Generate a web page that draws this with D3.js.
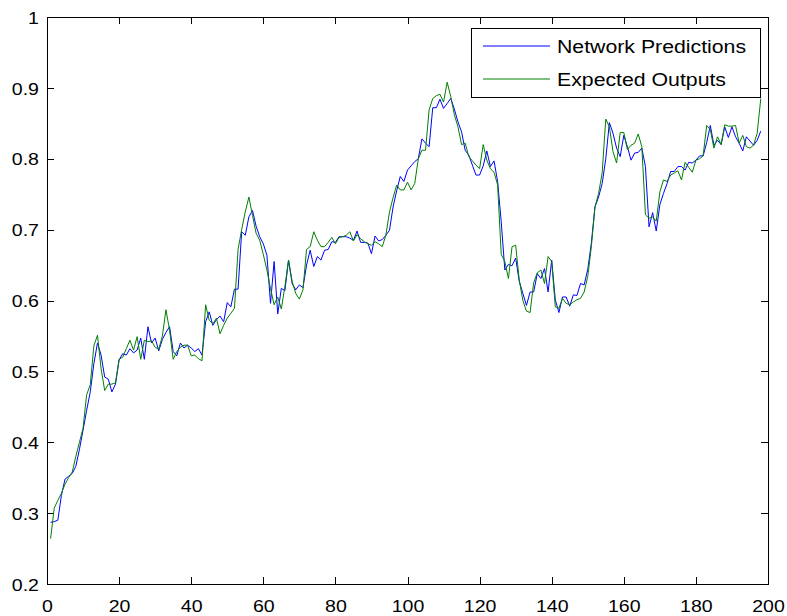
<!DOCTYPE html>
<html>
<head>
<meta charset="utf-8">
<script src="https://cdn.jsdelivr.net/npm/d3@7"></script>
<style>
  body { margin: 0; background: #fff; }
  svg { display: block; }
  text { font-family: "Liberation Sans", Arial, sans-serif; fill: #000; }
</style>
</head>
<body>
<div id="chart"></div>
<script>
// network output, one value per step (x = 1..198)
const predicted = [
  0.287, 0.288, 0.290, 0.325, 0.348, 0.352, 0.356, 0.366, 0.390, 0.417,
  0.445, 0.471, 0.511, 0.540, 0.523, 0.492, 0.489, 0.471, 0.482, 0.516,
  0.525, 0.523, 0.532, 0.526, 0.530, 0.547, 0.517, 0.563, 0.540, 0.547,
  0.529, 0.545, 0.555, 0.563, 0.528, 0.522, 0.540, 0.533, 0.537, 0.533,
  0.528, 0.532, 0.523, 0.570, 0.584, 0.565, 0.573, 0.578, 0.570, 0.597,
  0.591, 0.616, 0.616, 0.697, 0.692, 0.718, 0.727, 0.705, 0.690, 0.680,
  0.664, 0.596, 0.655, 0.581, 0.617, 0.614, 0.657, 0.624, 0.615, 0.622,
  0.618, 0.650, 0.671, 0.648, 0.662, 0.657, 0.671, 0.672, 0.683, 0.682,
  0.690, 0.690, 0.690, 0.688, 0.685, 0.698, 0.682, 0.682, 0.681, 0.666,
  0.691, 0.684, 0.686, 0.692, 0.699, 0.732, 0.755, 0.775, 0.768, 0.784,
  0.790, 0.796, 0.800, 0.828, 0.822, 0.817, 0.872, 0.872, 0.884, 0.871,
  0.878, 0.885, 0.870, 0.852, 0.838, 0.812, 0.805, 0.791, 0.777, 0.777,
  0.790, 0.811, 0.789, 0.797, 0.768, 0.711, 0.643, 0.651, 0.649, 0.660,
  0.627, 0.610, 0.593, 0.612, 0.612, 0.638, 0.631, 0.645, 0.612, 0.657,
  0.601, 0.583, 0.605, 0.605, 0.592, 0.608, 0.607, 0.624, 0.622, 0.644,
  0.681, 0.732, 0.746, 0.765, 0.800, 0.851, 0.836, 0.815, 0.803, 0.833,
  0.817, 0.798, 0.808, 0.809, 0.815, 0.789, 0.704, 0.724, 0.698, 0.735,
  0.751, 0.765, 0.782, 0.782, 0.789, 0.789, 0.784, 0.795, 0.794, 0.798,
  0.804, 0.804, 0.823, 0.847, 0.819, 0.826, 0.820, 0.845, 0.830, 0.845,
  0.831, 0.822, 0.811, 0.831, 0.825, 0.819, 0.826, 0.839
];

// target values
const expected = [
  0.264, 0.307, 0.318, 0.328, 0.341, 0.350, 0.358, 0.380, 0.400, 0.420,
  0.467, 0.481, 0.536, 0.551, 0.504, 0.473, 0.482, 0.482, 0.484, 0.517,
  0.520, 0.532, 0.544, 0.530, 0.549, 0.517, 0.544, 0.542, 0.543, 0.534,
  0.531, 0.550, 0.587, 0.558, 0.517, 0.528, 0.534, 0.537, 0.537, 0.522,
  0.523, 0.518, 0.515, 0.594, 0.572, 0.567, 0.575, 0.553, 0.565, 0.575,
  0.582, 0.589, 0.672, 0.700, 0.725, 0.746, 0.720, 0.695, 0.685, 0.665,
  0.643, 0.617, 0.594, 0.605, 0.588, 0.620, 0.657, 0.627, 0.610, 0.602,
  0.615, 0.672, 0.676, 0.697, 0.685, 0.676, 0.676, 0.682, 0.689, 0.680,
  0.689, 0.690, 0.692, 0.697, 0.684, 0.693, 0.687, 0.683, 0.680, 0.678,
  0.683, 0.680, 0.676, 0.692, 0.725, 0.745, 0.763, 0.756, 0.756, 0.767,
  0.756, 0.765, 0.800, 0.812, 0.812, 0.869, 0.885, 0.889, 0.891, 0.880,
  0.908, 0.888, 0.862, 0.845, 0.820, 0.822, 0.803, 0.797, 0.791, 0.786,
  0.820, 0.798, 0.786, 0.781, 0.763, 0.665, 0.655, 0.631, 0.676, 0.678,
  0.629, 0.600, 0.585, 0.583, 0.625, 0.639, 0.643, 0.624, 0.662, 0.655,
  0.591, 0.589, 0.603, 0.596, 0.594, 0.598, 0.601, 0.603, 0.612, 0.634,
  0.676, 0.732, 0.751, 0.780, 0.856, 0.845, 0.810, 0.794, 0.837, 0.837,
  0.813, 0.819, 0.822, 0.835, 0.817, 0.721, 0.716, 0.718, 0.712, 0.753,
  0.770, 0.768, 0.777, 0.780, 0.783, 0.770, 0.795, 0.788, 0.781, 0.798,
  0.800, 0.804, 0.847, 0.841, 0.815, 0.831, 0.820, 0.848, 0.846, 0.846,
  0.847, 0.822, 0.833, 0.817, 0.815, 0.819, 0.836, 0.885
];

const xTicks = [0, 20, 40, 60, 80, 100, 120, 140, 160, 180, 200];
const yTicks = [0.2, 0.3, 0.4, 0.5, 0.6, 0.7, 0.8, 0.9, 1];
const seriesNames = ["Network Predictions", "Expected Outputs"];
const seriesColors = ["#0000ff", "#008000"];

const width = 787, height = 616;
const margin = { top: 17, right: 19, bottom: 32, left: 47 };
const stretch = "scale(1.15,1)"; // text in the original is a bit wide

const svg = d3.select("#chart").append("svg")
  .attr("width", width)
  .attr("height", height)
  .style("background", "#fff");

const x = d3.scaleLinear()
  .domain([0, 200])
  .range([margin.left, width - margin.right]);
const y = d3.scaleLinear()
  .domain([0.2, 1])
  .range([height - margin.bottom, margin.top]);

// axes, ticks pointing inwards on all four sides
const fmt = d3.format("");
const xAxisBottom = svg.append("g")
  .attr("transform", "translate(0," + (height - margin.bottom) + ")")
  .call(d3.axisBottom(x).tickValues(xTicks).tickSizeInner(-7).tickSizeOuter(0).tickPadding(16).tickFormat(fmt));
const xAxisTop = svg.append("g")
  .attr("transform", "translate(0," + margin.top + ")")
  .call(d3.axisTop(x).tickValues(xTicks).tickSizeInner(-7).tickSizeOuter(0).tickFormat(""));
const yAxisLeft = svg.append("g")
  .attr("transform", "translate(" + margin.left + ",0)")
  .call(d3.axisLeft(y).tickValues(yTicks).tickSizeInner(-7).tickSizeOuter(0).tickPadding(7).tickFormat(fmt));
const yAxisRight = svg.append("g")
  .attr("transform", "translate(" + (width - margin.right) + ",0)")
  .call(d3.axisRight(y).tickValues(yTicks).tickSizeInner(-7).tickSizeOuter(0).tickFormat(""));

[xAxisBottom, xAxisTop, yAxisLeft, yAxisRight].forEach(function(g) {
  g.select(".domain").remove();
  g.selectAll(".tick line").attr("stroke", "#000").attr("shape-rendering", "crispEdges");
  g.selectAll(".tick text")
    .attr("font-size", 17)
    .attr("font-family", "'Liberation Sans', Arial, sans-serif")
    .attr("fill", "#000")
    .attr("transform", stretch);
});
yAxisLeft.selectAll(".tick text").attr("dy", "0.36em");

// data lines
const line = d3.line()
  .x(function(d, i) { return x(i + 1); })
  .y(function(d) { return y(d); });

svg.append("path")
  .datum(predicted)
  .attr("fill", "none")
  .attr("stroke", seriesColors[0])
  .attr("stroke-width", 1)
  .attr("d", line);

svg.append("path")
  .datum(expected)
  .attr("fill", "none")
  .attr("stroke", seriesColors[1])
  .attr("stroke-width", 1)
  .attr("d", line);

// box around the plot
svg.append("rect")
  .attr("x", margin.left)
  .attr("y", margin.top)
  .attr("width", width - margin.left - margin.right)
  .attr("height", height - margin.top - margin.bottom)
  .attr("fill", "none")
  .attr("stroke", "#000")
  .attr("shape-rendering", "crispEdges");

// legend
const legend = svg.append("g").attr("transform", "translate(471,28)");
legend.append("rect")
  .attr("width", 289)
  .attr("height", 69)
  .attr("fill", "#fff")
  .attr("stroke", "#000")
  .attr("shape-rendering", "crispEdges");

const rows = legend.selectAll(".row")
  .data(seriesNames)
  .enter().append("g")
  .attr("class", "row")
  .attr("transform", function(d, i) { return "translate(0," + (18 + i * 33) + ")"; });

rows.append("line")
  .attr("x1", 12)
  .attr("x2", 79)
  .attr("stroke", function(d, i) { return seriesColors[i]; })
  .attr("stroke-width", 1);

rows.append("g")
  .attr("transform", "translate(86,0)")
  .append("text")
  .attr("transform", stretch)
  .attr("dy", "0.37em")
  .attr("font-size", 18.5)
  .text(function(d) { return d; });
</script>
</body>
</html>
